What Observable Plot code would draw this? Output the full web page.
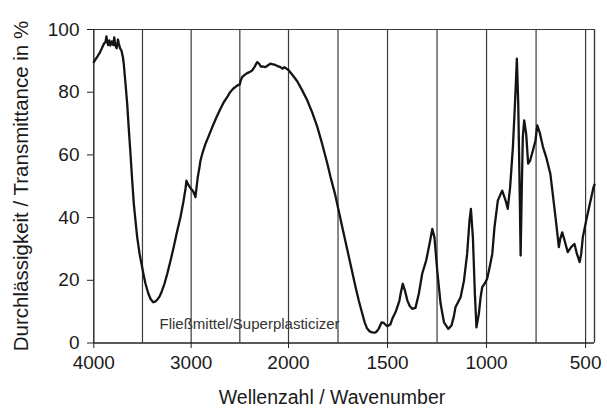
<!DOCTYPE html>
<html>
<head>
<meta charset="utf-8">
<script src="https://cdn.jsdelivr.net/npm/d3@7"></script>
<script src="https://cdn.jsdelivr.net/npm/@observablehq/plot@0.6"></script>
<style>
  html, body { margin: 0; padding: 0; background: #fff; }
  #chart svg { display: block; }
</style>
</head>
<body>
<div id="chart"></div>
<script>
// Wavenumber (cm^-1)
const wavenumber = [
  4000, 3985, 3970, 3955, 3940, 3925, 3910, 3895, 3880, 3870, 3862, 3852, 3840, 3829, 3815, 3800, 3790, 3780, 3765, 3752, 3743, 3730, 3716, 3700, 3692,
  3675, 3657, 3640, 3623, 3606, 3589, 3570, 3554, 3530, 3510, 3490, 3469, 3440, 3418, 3390, 3370, 3349, 3325, 3305, 3275, 3246, 3210, 3179, 3145, 3110,
  3080, 3058, 3048, 3030, 3014, 2995, 2980, 2965, 2956, 2945, 2932, 2915, 2904, 2880, 2853, 2820, 2784, 2740, 2699, 2665, 2630, 2600, 2569, 2528, 2501,
  2490, 2476, 2450, 2425, 2400, 2374, 2350, 2322, 2300, 2285, 2271, 2237, 2210, 2186, 2160, 2134, 2110, 2083, 2060, 2042, 2020, 2000,
  1980, 1956, 1930, 1906, 1880, 1855, 1830, 1805, 1788, 1765, 1746, 1725, 1704, 1683, 1662, 1645, 1628, 1615, 1603, 1590, 1578, 1565, 1557, 1544,
  1530, 1519, 1510, 1502, 1494, 1485, 1476, 1460, 1451, 1440, 1434, 1423, 1412, 1400, 1388, 1375, 1359, 1342, 1325, 1305, 1288, 1274, 1263, 1249,
  1232, 1215, 1193, 1177, 1165, 1157, 1131, 1114, 1098, 1086, 1079, 1069, 1059, 1051, 1039, 1030, 1022, 1010, 997, 985, 971, 960, 943, 921, 904,
  893, 881, 867, 855, 847, 840, 833, 828, 822, 817, 810, 800, 790, 780, 766, 753, 744, 732, 715, 699, 678, 662, 648, 635, 628, 618, 606, 590,
  573, 556, 544, 530, 522, 514, 497, 480, 460, 455
];
// Transmittance (%)
const transmittance = [
  89.6, 90.3, 91.0, 91.8, 92.5, 93.5, 94.5, 95.5, 96.0, 97.8, 96.0, 95.0, 96.5, 94.9, 96.2, 95.0, 97.5, 95.0, 94.0, 96.8, 95.5, 94.0, 93.3, 91.0, 89.0,
  83, 76.3, 68, 60.3, 52, 44.4, 38.5, 33.7, 28.5, 25.3, 22, 18.9, 15.8, 14.1, 13.0, 13.2, 13.8, 14.8, 16.2, 18.8, 22, 26.5, 30.6, 35.5, 40.1,
  45, 49.2, 51.8, 50.5, 49.7, 49, 48.4, 47.3, 46.5, 49.5, 52.9, 56, 58.2, 61, 63.5, 66, 68.8, 72, 74.7, 76.8, 78.4, 80, 81.1, 82.1, 82.5,
  83.8, 84.8, 85.5, 86.1, 86.4, 86.9, 88, 89.6, 89, 88.2, 88.2, 88, 88.6, 89.1, 88.9, 88.7, 88.3, 88, 87.5, 88, 87.5, 87.1,
  85.5, 83.5, 80.5, 77.5, 73.5, 69, 63.5, 57.5, 53, 47.5, 42, 36, 30, 24, 18, 13.5, 9.5, 6.5, 4.6, 3.7, 3.4, 3.3, 3.5, 4.6,
  6.6, 6.4, 5.8, 5.4, 5.6, 6.0, 7.7, 9.8, 11.4, 13.5, 15.7, 18.9, 16.7, 13.6, 11.8, 10.9, 11.2, 15.7, 22.1, 26.3, 31.6, 36.4, 33.7, 23.1,
  12.5, 6.6, 4.5, 5.6, 8.5, 11.4, 14.6, 19.9, 28.5, 39.1, 42.8, 33.7, 15.7, 5.0, 9.3, 14.6, 17.8, 18.9, 20.5, 24, 28.5, 36.9, 45.5, 48.6, 45.5,
  42.8, 49.7, 62.5, 78.4, 90.7, 76.3, 49.7, 27.9, 49.7, 65.6, 71, 66.7, 57.2, 58.2, 61.4, 64.6, 69.4, 67.2, 62.5, 59.3, 54, 45.5, 38, 30.6, 33.2, 35.3, 32.7, 29,
  30.6, 31.6, 28.5, 25.8, 28.5, 33.7, 39.1, 43.9, 49.7, 50.5
];

const xTicks = [4000, 3000, 2000, 1500, 1000, 500];
const gridX = [3500, 3000, 2500, 2000, 1750, 1500, 1250, 1000, 750, 500];
const yTicks = [0, 20, 40, 60, 80, 100];
const xTitle = "Wellenzahl / Wavenumber";
const yTitle = "Durchlässigkeit / Transmittance in %";
const sampleLabel = "Fließmittel/Superplasticizer";
const xEnd = 455;

const data = wavenumber.map((w, i) => ({w, t: transmittance[i]}));

const chart = Plot.plot({
  width: 607,
  height: 412,
  marginLeft: 93,
  marginRight: 13,
  marginTop: 29,
  marginBottom: 70,
  style: {fontFamily: "'Liberation Sans', Arial, sans-serif", fontSize: "19px", color: "#1a1a1a", background: "#fff"},
  x: {type: "linear", domain: [4000, 2000, xEnd], range: [93.3, 288, 594]},
  y: {domain: [0, 100], range: [342.5, 29]},
  marks: [
    Plot.ruleX(gridX, {y1: 0, y2: 100, stroke: "#3a3a3a", strokeWidth: 1.2}),
    Plot.ruleY([100], {x1: 4000, x2: xEnd, stroke: "#3a3a3a", strokeWidth: 1.2}),
    Plot.ruleX([xEnd], {y1: 0, y2: 100, stroke: "#3a3a3a", strokeWidth: 1.4}),
    Plot.ruleX([4000], {y1: 0, y2: 100, stroke: "#222", strokeWidth: 1.4}),
    Plot.ruleY([0], {x1: 4000, x2: xEnd, stroke: "#222", strokeWidth: 1.4}),
    Plot.axisX(xTicks, {tickSize: 6, tickPadding: 7, tickFormat: d => String(d), label: null, stroke: "#222"}),
    Plot.axisY(yTicks, {tickSize: 6, tickPadding: 8, tickFormat: d => String(d), label: null, stroke: "#222"}),
    Plot.text([xTitle], {frameAnchor: "bottom", dx: -12, dy: 55, textAnchor: "middle", lineAnchor: "middle", fontSize: 19.5, fill: "#1a1a1a"}),
    Plot.text([yTitle], {frameAnchor: "left", rotate: -90, dx: -72, dy: 0, textAnchor: "middle", lineAnchor: "middle", fontSize: 20.5, fill: "#1a1a1a"}),
    Plot.text([sampleLabel], {x: 3325, y: 6, textAnchor: "start", lineAnchor: "middle", fontSize: 15, fill: "#333"}),
    Plot.line(data, {x: "w", y: "t", stroke: "#141414", strokeWidth: 2.3, strokeLinejoin: "round"})
  ]
});
document.getElementById("chart").appendChild(chart);
</script>
</body>
</html>
